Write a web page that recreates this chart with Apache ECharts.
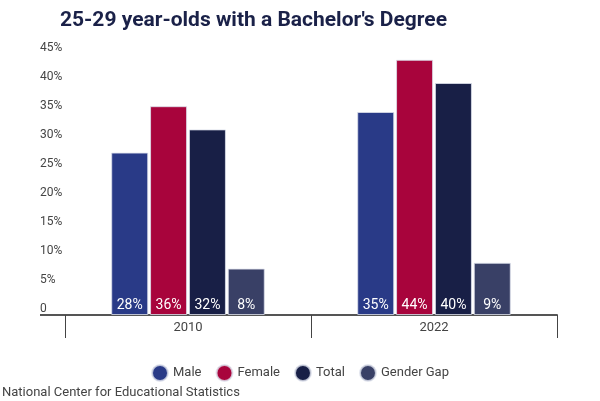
<!DOCTYPE html>
<html>
<head>
<meta charset="utf-8">
<script src="https://cdn.jsdelivr.net/npm/echarts@6/dist/echarts.min.js"></script>
<style>html,body{margin:0;padding:0;background:#fff}#c{width:600px;height:401px}</style>
</head>
<body>
<div id="c"></div>
<script>
const years = ['2010', '2022'];
const seriesNames = ['Male', 'Female', 'Total', 'Gender Gap'];
const male = [28, 35];
const female = [36, 44];
const total = [32, 40];
const genderGap = [8, 9];
const yTicks = [0, 5, 10, 15, 20, 25, 30, 35, 40, 45];
const colors = ['#293a87', '#a8043c', '#181f46', '#394066'];

const chart = echarts.init(document.getElementById('c'));
const font = 'Roboto';
const values = [male, female, total, genderGap];
chart.setOption({
  animation: false,
  textStyle: { fontFamily: font },
  title: {
    text: "25-29 year-olds with a Bachelor's Degree",
    left: 55, top: 5,
    textStyle: { fontFamily: font, fontSize: 21, fontWeight: 'bold', color: '#1a2148' }
  },
  legend: {
    data: seriesNames,
    bottom: 14, left: 'center',
    icon: 'circle', itemWidth: 16, itemHeight: 16, itemGap: 14,
    textStyle: { fontFamily: font, fontSize: 13, color: '#444' }
  },
  grid: { left: 65, right: 43, top: 54, bottom: 86, containLabel: false },
  xAxis: {
    type: 'category', data: years,
    axisLine: { lineStyle: { color: '#555', width: 2 } },
    axisTick: { show: true, length: 23, lineStyle: { color: '#444', width: 1 } },
    axisLabel: { margin: 6, fontFamily: font, fontSize: 13, color: '#444' }
  },
  yAxis: {
    type: 'value', min: yTicks[0], max: yTicks[yTicks.length - 1], interval: yTicks[1] - yTicks[0],
    splitLine: { show: false }, axisLine: { show: false }, axisTick: { show: false },
    axisLabel: {
      align: 'left', margin: 25, verticalAlign: 'bottom',
      fontFamily: font, fontSize: 12, color: '#444',
      formatter: v => v === 0 ? '0' : v + '%'
    }
  },
  graphic: [{
    type: 'line', shape: { x1: 40, y1: 315, x2: 66, y2: 315 },
    style: { stroke: '#555', lineWidth: 2 }
  }, {
    type: 'text', left: 2, bottom: 2,
    style: { text: 'National Center for Educational Statistics', fontFamily: font, fontSize: 13, fill: '#444' }
  }],
  series: seriesNames.map((n, i) => ({
    name: n, type: 'bar', data: values[i],
    barWidth: 37, barGap: '5%',
    itemStyle: { color: colors[i], borderColor: 'rgba(220,224,235,0.8)', borderWidth: 1 },
    label: {
      show: true, position: 'insideBottom', distance: 3,
      color: '#fff', fontFamily: font, fontSize: 14, fontWeight: 'normal',
      formatter: p => p.value + '%'
    }
  }))
});
</script>
</body>
</html>
